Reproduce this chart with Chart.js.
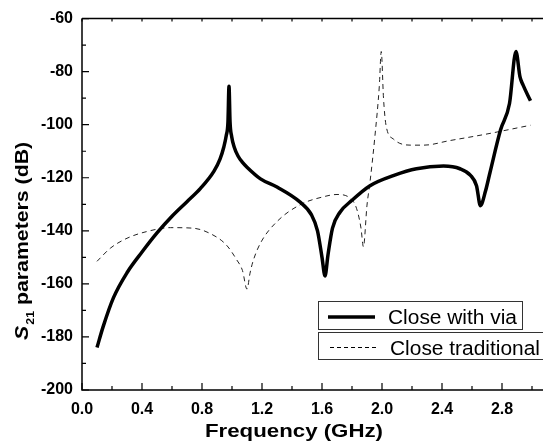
<!DOCTYPE html>
<html>
<head>
<meta charset="utf-8">
<script src="https://cdn.jsdelivr.net/npm/chart.js@4.4.1/dist/chart.umd.min.js"></script>
<style>
  html, body { margin: 0; padding: 0; background: #fff; overflow: hidden; }
  #wrap { width: 543px; height: 444px; }
</style>
</head>
<body>
<div id="wrap"><canvas id="myChart" width="543" height="444"></canvas></div>
<script>
// --- data ---
const freqVia = [0.10, 0.14, 0.21, 0.30, 0.40, 0.50, 0.60, 0.70, 0.79, 0.88, 0.92, 0.945, 0.962, 0.973, 0.98, 0.987, 0.998, 1.015, 1.04, 1.07, 1.10, 1.19, 1.30, 1.45, 1.53, 1.57, 1.60, 1.62, 1.64, 1.67, 1.72, 1.80, 1.92, 2.08, 2.23, 2.41, 2.52, 2.59, 2.63, 2.656, 2.69, 2.72, 2.79, 2.85, 2.893, 2.92, 2.94, 2.99];
const s21Via  = [-184, -176.3, -165.2, -155.8, -148, -140.8, -134.5, -129, -124, -117.5, -113, -108.5, -104, -99, -85.5, -99, -104.5, -108.5, -111.8, -114.2, -116, -120.4, -123.5, -129, -134, -140, -150, -157, -149, -139, -133, -128.5, -123, -119.1, -116.6, -115.6, -116.6, -119.1, -123, -130.5, -125, -118, -102, -92, -72.4, -82, -85, -91];

const freqTrad = [0.10, 0.19, 0.30, 0.43, 0.59, 0.74, 0.85, 0.96, 1.03, 1.07, 1.10, 1.12, 1.14, 1.19, 1.30, 1.46, 1.60, 1.70, 1.79, 1.83, 1.86, 1.876, 1.90, 1.92, 1.953, 1.982, 1.995, 2.01, 2.027, 2.076, 2.19, 2.28, 2.45, 2.69, 2.92, 2.99];
const s21Trad  = [-151.5, -146.5, -142.8, -140.3, -138.8, -139, -140.9, -145.2, -150.8, -155, -162, -156, -151.5, -144.6, -136.5, -130, -127.3, -126.3, -127.8, -131.5, -139, -146, -130.3, -121.6, -104.2, -85.5, -72.4, -90, -100.3, -105.4, -107.7, -107.7, -106, -103.6, -101, -100.2];

const xTicks = [0.0, 0.4, 0.8, 1.2, 1.6, 2.0, 2.4, 2.8];
const yTicks = [-200, -180, -160, -140, -120, -100, -80, -60];
const seriesNames = ["Close with via", "Close traditional"];
const xTitle = "Frequency (GHz)";
const yTitleRest = " parameters (dB)";

function pts(xs, ys) {
  return xs.map((x, i) => ({ x: x, y: ys[i] }));
}

// draws text squeezed/stretched to a given width
function stretchText(ctx, txt, x, y, w) {
  const m = ctx.measureText(txt).width;
  ctx.save();
  ctx.translate(x, y);
  ctx.scale(w / m, 1);
  ctx.fillText(txt, 0, 0);
  ctx.restore();
}

// ticks inside the frame + the frame itself
const frame = {
  id: "frame",
  afterDatasetsDraw(chart) {
    const { ctx, chartArea: a, scales } = chart;
    const xs = scales.x, ys = scales.y;
    ctx.save();
    ctx.strokeStyle = "#000";
    ctx.lineWidth = 1.5;
    ctx.beginPath();
    ctx.moveTo(a.left, a.top); ctx.lineTo(a.left, a.bottom); ctx.lineTo(a.right, a.bottom);
    ctx.moveTo(a.left, a.top); ctx.lineTo(a.right, a.top);
    ctx.stroke();
    ctx.lineWidth = 1.2;
    ctx.beginPath();
    for (let v = 0; v <= 3.0001; v += 0.2) {
      const px = xs.getPixelForValue(v);
      const major = Math.abs(v / 0.4 - Math.round(v / 0.4)) < 0.01;
      ctx.moveTo(px, a.bottom); ctx.lineTo(px, a.bottom - (major ? 7 : 4));
      ctx.moveTo(px, a.top); ctx.lineTo(px, a.top + 3);
    }
    for (let v = -200; v <= -60; v += 10) {
      const py = ys.getPixelForValue(v);
      const major = v % 20 === 0;
      ctx.moveTo(a.left, py); ctx.lineTo(a.left + (major ? 7 : 4), py);
    }
    ctx.stroke();
    ctx.restore();
  },
  afterDraw(chart) {
    const ctx = chart.ctx;
    ctx.save();
    ctx.fillStyle = "#000";
    ctx.textBaseline = "alphabetic";
    // x title
    ctx.font = "bold 19px 'Liberation Sans', Arial, sans-serif";
    stretchText(ctx, xTitle, 205, 437, 178);
    // y title, rotated
    ctx.translate(28, 340);
    ctx.rotate(-Math.PI / 2);
    ctx.scale(1.12, 1);
    ctx.font = "italic bold 19px 'Liberation Sans', Arial, sans-serif";
    ctx.fillText("S", 0, 0);
    let w = ctx.measureText("S").width;
    ctx.font = "bold 11px 'Liberation Sans', Arial, sans-serif";
    ctx.fillText("21", w + 1, 6);
    w += 1 + ctx.measureText("21").width;
    ctx.font = "bold 19px 'Liberation Sans', Arial, sans-serif";
    ctx.fillText(yTitleRest, w, 0);
    ctx.restore();

    // legend, two separate boxes like the original
    ctx.save();
    ctx.strokeStyle = "#333";
    ctx.lineWidth = 1;
    ctx.strokeRect(318.5, 301.5, 204, 28);
    ctx.strokeRect(318.5, 332.5, 240, 27);
    ctx.strokeStyle = "#000";
    ctx.lineWidth = 3.5;
    ctx.beginPath(); ctx.moveTo(328, 317); ctx.lineTo(375, 317); ctx.stroke();
    ctx.lineWidth = 1;
    ctx.setLineDash([4, 3]);
    ctx.beginPath(); ctx.moveTo(330, 347.5); ctx.lineTo(378, 347.5); ctx.stroke();
    ctx.setLineDash([]);
    ctx.fillStyle = "#000";
    ctx.font = "20px 'Liberation Sans', Arial, sans-serif";
    stretchText(ctx, seriesNames[0], 388, 324, 129);
    stretchText(ctx, seriesNames[1], 390, 355, 150);
    ctx.restore();
  }
};

const tickFont = { family: "'Liberation Sans', Arial, sans-serif", size: 16, weight: "bold" };

const config = {
  type: "line",
  data: {
    datasets: [
      {
        label: seriesNames[0],
        data: pts(freqVia, s21Via),
        borderColor: "#000",
        borderWidth: 3.5,
        pointRadius: 0,
        cubicInterpolationMode: "monotone",
        borderJoinStyle: "round",
      },
      {
        label: seriesNames[1],
        data: pts(freqTrad, s21Trad),
        borderColor: "#222",
        borderWidth: 1,
        borderDash: [5, 4],
        pointRadius: 0,
        cubicInterpolationMode: "monotone",
      },
    ],
  },
  options: {
    responsive: false,
    animation: false,
    layout: { padding: { top: 15, left: 0, right: 0, bottom: 0 } },
    plugins: { legend: { display: false }, tooltip: { enabled: false } },
    scales: {
      x: {
        type: "linear",
        min: 0,
        max: 3.0733,
        grid: { display: false, drawTicks: false },
        border: { display: false },
        afterBuildTicks: (s) => { s.ticks = xTicks.map((v) => ({ value: v })); },
        afterFit: (s) => { s.height = 54; },
        ticks: {
          autoSkip: false, maxRotation: 0, padding: 10,
          color: "#000", font: tickFont,
          callback: (v) => Number(v).toFixed(1),
        },
      },
      y: {
        min: -200,
        max: -60,
        grid: { display: false, drawTicks: false },
        border: { display: false },
        afterBuildTicks: (s) => { s.ticks = yTicks.map((v) => ({ value: v })); },
        afterFit: (s) => { s.width = 82; },
        ticks: { autoSkip: false, padding: 9, color: "#000", font: tickFont },
      },
    },
  },
  plugins: [frame],
};

let chart = new Chart(document.getElementById("myChart").getContext("2d"), config);
</script>
</body>
</html>
